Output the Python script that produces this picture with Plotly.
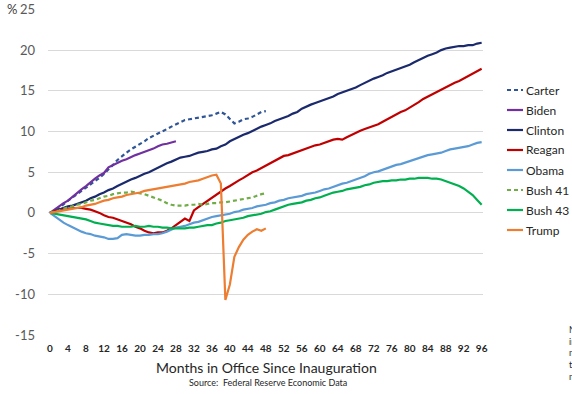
import plotly.graph_objects as go

months = list(range(0, 97))
x_ticks = list(range(0, 97, 4))
y_ticks = [-15, -10, -5, 0, 5, 10, 15, 20, 25]

carter = [0, 0.2, 0.6, 1.1, 1.5, 1.9, 2.3, 2.6, 3.1, 3.5, 3.9, 4.3, 4.8, 5.3, 5.9, 6.5,
          7.0, 7.4, 7.8, 8.1, 8.4, 8.8, 9.2, 9.5, 9.8, 10.1, 10.3, 10.6, 10.9, 11.2, 11.4,
          11.5, 11.6, 11.7, 11.8, 11.9, 12.0, 12.2, 12.4, 12.1, 11.6, 11.0, 11.2, 11.5,
          11.6, 11.8, 12.1, 12.4, 12.5]
biden = [0, 0.4, 0.9, 1.2, 1.5, 2.0, 2.5, 2.9, 3.3, 3.8, 4.2, 4.6, 4.9, 5.6, 5.9, 6.1,
         6.4, 6.6, 6.9, 7.1, 7.3, 7.5, 7.7, 7.9, 8.2, 8.4, 8.5, 8.7, 8.8]
clinton = [0, 0.2, 0.4, 0.6, 0.8, 0.9, 1.1, 1.3, 1.5, 1.8, 2.0, 2.3, 2.5, 2.8, 3.0, 3.3,
           3.6, 3.8, 4.1, 4.3, 4.6, 4.8, 5.0, 5.3, 5.6, 5.9, 6.1, 6.3, 6.6, 6.8, 6.9, 7.0,
           7.2, 7.4, 7.5, 7.6, 7.8, 7.9, 8.2, 8.4, 8.8, 9.1, 9.3, 9.6, 9.8, 10.1, 10.3,
           10.6, 10.8, 11.0, 11.3, 11.5, 11.7, 11.9, 12.2, 12.4, 12.8, 13.1, 13.3, 13.5,
           13.7, 13.9, 14.1, 14.3, 14.6, 14.8, 15.0, 15.2, 15.4, 15.7, 16.0, 16.2, 16.5,
           16.7, 16.9, 17.2, 17.4, 17.6, 17.8, 18.0, 18.2, 18.5, 18.8, 19.1, 19.3, 19.5,
           19.7, 20.0, 20.2, 20.3, 20.4, 20.5, 20.5, 20.6, 20.6, 20.8, 20.9]
reagan = [0, 0.2, 0.3, 0.4, 0.5, 0.6, 0.6, 0.6, 0.5, 0.4, 0.2, 0.0, -0.3, -0.5, -0.6,
          -0.8, -1.0, -1.2, -1.4, -1.7, -1.9, -2.2, -2.4, -2.5, -2.4, -2.4, -2.2, -1.9,
          -1.5, -1.1, -0.7, -1.0, 0.3, 0.7, 1.1, 1.5, 1.9, 2.3, 2.7, 3.0, 3.3, 3.7, 4.0,
          4.3, 4.7, 5.0, 5.2, 5.5, 5.8, 6.1, 6.4, 6.7, 7.0, 7.1, 7.3, 7.5, 7.7, 7.9, 8.1,
          8.3, 8.4, 8.6, 8.8, 9.0, 9.1, 9.0, 9.3, 9.6, 9.9, 10.1, 10.3, 10.5, 10.7, 10.9,
          11.2, 11.5, 11.8, 12.1, 12.4, 12.6, 12.9, 13.2, 13.6, 14.0, 14.3, 14.6, 14.9,
          15.2, 15.5, 15.8, 16.0, 16.2, 16.5, 16.8, 17.1, 17.4, 17.7]
obama = [0, -0.4, -0.9, -1.2, -1.5, -1.8, -2.1, -2.3, -2.5, -2.6, -2.8, -2.9, -3.0,
         -3.2, -3.2, -3.1, -2.7, -2.6, -2.7, -2.8, -2.8, -2.7, -2.7, -2.6, -2.6, -2.5,
         -2.3, -2.0, -1.8, -1.7, -1.6, -1.4, -1.2, -1.1, -0.9, -0.7, -0.5, -0.4, -0.3,
         -0.2, -0.1, 0.1, 0.2, 0.4, 0.5, 0.6, 0.8, 0.9, 1.0, 1.2, 1.3, 1.5, 1.6, 1.8, 1.9,
         2.0, 2.1, 2.3, 2.4, 2.5, 2.7, 2.9, 3.0, 3.2, 3.4, 3.6, 3.7, 3.9, 4.1, 4.3, 4.5,
         4.8, 5.0, 5.1, 5.3, 5.5, 5.7, 5.9, 6.0, 6.2, 6.3, 6.5, 6.7, 6.9, 7.1, 7.2, 7.3,
         7.4, 7.6, 7.8, 7.9, 8.0, 8.1, 8.2, 8.4, 8.6, 8.7]
bush41 = [0, 0.2, 0.3, 0.5, 0.7, 0.8, 1.0, 1.1, 1.3, 1.5, 1.6, 1.8, 2.0, 2.1, 2.3, 2.4,
          2.5, 2.5, 2.6, 2.5, 2.4, 2.3, 2.1, 1.9, 1.7, 1.5, 1.2, 1.0, 0.9, 0.9, 0.9, 1.0,
          1.0, 1.1, 1.0, 1.1, 1.2, 1.2, 1.3, 1.3, 1.4, 1.5, 1.6, 1.7, 1.8, 1.9, 2.1, 2.3,
          2.4]
bush43 = [0, -0.1, -0.2, -0.3, -0.4, -0.5, -0.6, -0.7, -0.8, -1.0, -1.2, -1.3, -1.4,
          -1.5, -1.6, -1.6, -1.7, -1.7, -1.7, -1.6, -1.7, -1.7, -1.6, -1.7, -1.7, -1.8,
          -1.8, -1.9, -1.9, -1.9, -1.9, -1.8, -1.8, -1.7, -1.6, -1.5, -1.5, -1.3, -1.2,
          -1.0, -0.9, -0.8, -0.7, -0.6, -0.4, -0.3, -0.2, -0.1, 0.1, 0.2, 0.4, 0.6, 0.8,
          1.0, 1.1, 1.2, 1.3, 1.5, 1.6, 1.8, 1.9, 2.1, 2.3, 2.5, 2.6, 2.7, 2.9, 3.0, 3.1,
          3.2, 3.4, 3.5, 3.7, 3.8, 3.9, 3.9, 4.0, 4.0, 4.1, 4.1, 4.2, 4.2, 4.3, 4.3, 4.3,
          4.2, 4.2, 4.1, 3.9, 3.7, 3.5, 3.3, 3.0, 2.6, 2.2, 1.6, 1.0]
trump = [0, 0.1, 0.2, 0.3, 0.4, 0.5, 0.6, 0.7, 0.9, 1.0, 1.1, 1.3, 1.5, 1.6, 1.8, 1.9,
         2.0, 2.2, 2.3, 2.4, 2.5, 2.7, 2.8, 2.9, 3.0, 3.1, 3.2, 3.3, 3.4, 3.5, 3.6, 3.8,
         3.9, 4.0, 4.2, 4.4, 4.6, 4.7, 3.6, -10.7, -8.8, -5.4, -4.2, -3.3, -2.7, -2.3,
         -2.0, -2.2, -1.9]

series = [
    ("Carter", carter, "#2F5597", "4px,3px"),
    ("Biden", biden, "#7030A0", "solid"),
    ("Clinton", clinton, "#1A2A6C", "solid"),
    ("Reagan", reagan, "#C00000", "solid"),
    ("Obama", obama, "#5B9BD5", "solid"),
    ("Bush 41", bush41, "#70AD47", "4px,3px"),
    ("Bush 43", bush43, "#00B050", "solid"),
    ("Trump", trump, "#ED7D31", "solid"),
]

fig = go.Figure()
for name, vals, color, dash in series:
    fig.add_trace(go.Scatter(
        x=months[:len(vals)], y=vals, mode="lines", name=name,
        line=dict(color=color, width=2.2, dash=dash),
        showlegend=False,
    ))

# plot area geometry in window pixels (page body margin removed below)
W, H = 572, 394
L, R, T, B = 48, 483, 9, 335


def px(xw):
    return (xw - L) / (R - L)


def py(yw):
    return (B - yw) / (B - T)


# custom legend (shapes + text)
for i, (name, vals, color, dash) in enumerate(series):
    yy = 90 + 20 * i
    fig.add_shape(type="line", xref="paper", yref="paper",
                  x0=px(507), x1=px(523), y0=py(yy), y1=py(yy),
                  line=dict(color=color, width=2.2, dash=dash))
    fig.add_annotation(xref="paper", yref="paper", x=px(524), y=py(yy),
                       text=name, showarrow=False, xanchor="left", yanchor="middle",
                       font=dict(size=12, color="#262626"))

fig.add_annotation(xref="paper", yref="paper", x=px(5), y=py(9), text="%",
                   showarrow=False, xanchor="left", yanchor="middle",
                   font=dict(size=13, color="#404040"))
fig.add_annotation(xref="paper", yref="paper", x=px(266), y=py(367),
                   text="Months in Office Since Inauguration", showarrow=False,
                   xanchor="center", yanchor="middle",
                   font=dict(size=14, color="#262626"))
fig.add_annotation(xref="paper", yref="paper", x=px(268), y=py(382),
                   text="Source:  Federal Reserve Economic Data", showarrow=False,
                   xanchor="center", yanchor="middle",
                   font=dict(size=9, color="#262626"))
fig.add_annotation(xref="paper", yref="paper", x=px(567), y=py(322),
                   text="Note:<br>index<br>monthly<br>the<br>month", showarrow=False,
                   xanchor="left", yanchor="top", align="left",
                   font=dict(size=9, color="#262626"))

fig.update_layout(
    width=W, height=H,
    margin=dict(l=L, r=W - R, t=T, b=H - B, autoexpand=False),
    paper_bgcolor="white", plot_bgcolor="white",
    font=dict(family="Lato, Open Sans, sans-serif", color="#595959"),
    xaxis=dict(range=[-0.45, 96.3], tickmode="array", tickvals=x_ticks,
               ticktext=[str(v) for v in x_ticks], showgrid=False, zeroline=False,
               showline=False, ticks="", ticklabelstandoff=6, automargin=False,
               tickfont=dict(size=10, color="#262626", weight="bold")),
    yaxis=dict(range=[-15, 25.05], tickmode="array", tickvals=y_ticks,
               ticktext=[str(v) for v in y_ticks], showgrid=True,
               gridcolor="#D9D9D9", gridwidth=1, zeroline=False, showline=False,
               ticks="", ticklabelstandoff=12, automargin=False,
               tickfont=dict(size=13, color="#595959")),
)

fig.write_html("out.html",
               config={"displayModeBar": False},
               post_script="document.body.style.margin='0px';"
                           "document.body.style.overflow='hidden';")
